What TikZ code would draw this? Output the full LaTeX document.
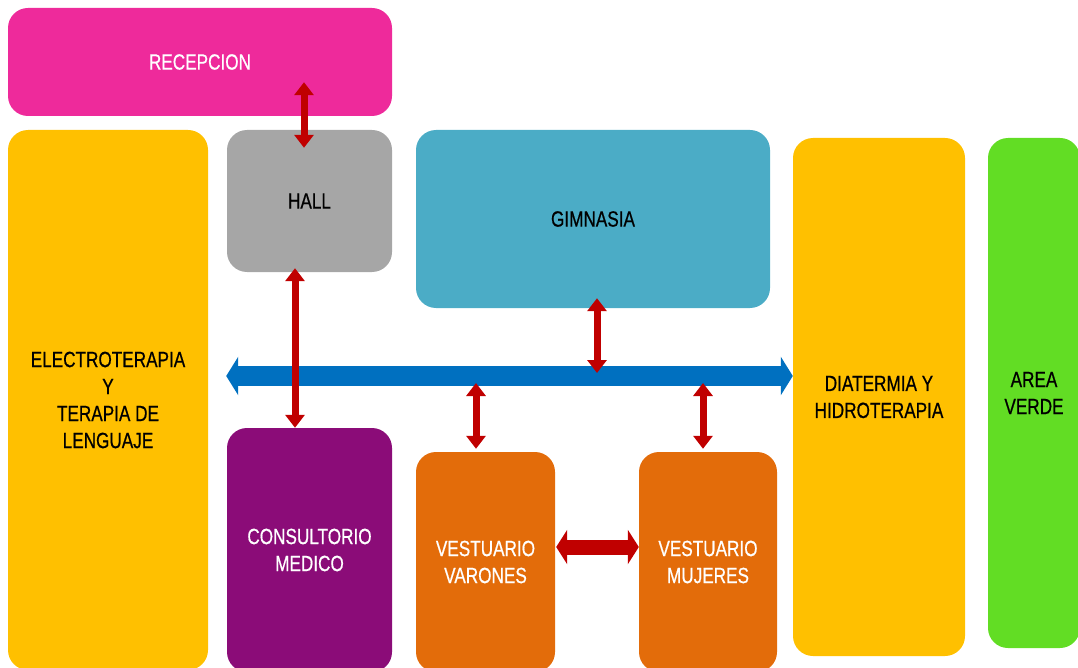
\documentclass[tikz,border=0pt]{standalone}
\usepackage{fontspec}
\setmainfont{Liberation Sans}[FakeStretch=0.78,FakeBold=0.6]
\usetikzlibrary{arrows.meta}
\definecolor{pinkc}{HTML}{EE2A9B}
\definecolor{yellowc}{HTML}{FFC000}
\definecolor{grayc}{HTML}{A6A6A6}
\definecolor{tealc}{HTML}{4BACC6}
\definecolor{purplec}{HTML}{8B0C78}
\definecolor{orangec}{HTML}{E36C0A}
\definecolor{greenc}{HTML}{62DD24}
\definecolor{redc}{HTML}{C00000}
\definecolor{bluec}{HTML}{0070C0}
\begin{document}
\begin{tikzpicture}[x=1pt,y=-1pt,
  room/.style={rectangle, rounded corners=20pt, inner sep=0pt, align=center,
    font=\fontsize{22}{27}\selectfont},
  redv/.style={draw=redc, line width=7pt,
    {Triangle[width=19pt,length=13pt]}-{Triangle[width=19pt,length=13pt]}},
  redh/.style={draw=redc, line width=15pt,
    {Triangle[width=34pt,length=11pt]}-{Triangle[width=34pt,length=11pt]}},
  busarrow/.style={draw=bluec, line width=20pt,
    {Triangle[width=38pt,length=12pt]}-{Triangle[width=38pt,length=12pt]}}]
\useasboundingbox (0,0) rectangle (1078,668);
\clip (0,0) rectangle (1078,668);

% rooms
\node[room, fill=pinkc, text=white, minimum width=384pt, minimum height=108pt] (rec) at (200,62) {RECEPCION};
\node[room, fill=yellowc, minimum width=200pt, minimum height=540pt] (elec) at (108,400)
  {ELECTROTERAPIA\\Y\\TERAPIA DE\\LENGUAJE};
\node[room, fill=grayc, minimum width=165pt, minimum height=142pt] (hall) at (309.5,201) {HALL};
\node[room, fill=tealc, minimum width=354pt, minimum height=178pt] (gym) at (593,219) {GIMNASIA};
\node[room, fill=yellowc, minimum width=172pt, minimum height=518pt] (diat) at (879,397)
  {DIATERMIA Y\\HIDROTERAPIA};
\node[room, fill=greenc, minimum width=92pt, minimum height=510pt] (verde) at (1034,393)
  {AREA\\VERDE};
\node[room, fill=purplec, text=white, minimum width=165pt, minimum height=244pt] (cons) at (309.5,550)
  {CONSULTORIO\\MEDICO};
\node[room, fill=orangec, text=white, minimum width=139pt, minimum height=220pt] (var) at (485.5,562)
  {VESTUARIO\\VARONES};
\node[room, fill=orangec, text=white, minimum width=138pt, minimum height=220pt] (muj) at (708,562)
  {VESTUARIO\\MUJERES};

% points on the main corridor
\coordinate (busG) at (597,373);
\coordinate (busV) at (476,383);
\coordinate (busM) at (703,383);

% main corridor
\draw[busarrow] ([xshift=18pt,yshift=24pt]elec.east) -- ([yshift=21pt]diat.west);

% connections
\draw[redv] ([xshift=104pt,yshift=34pt]rec.south) -- ([xshift=-5.5pt,yshift=-18pt]hall.north);
\draw[redv] ([xshift=-14.5pt,yshift=4pt]hall.south) -- ([xshift=-14.5pt]cons.north);
\draw[redv] ([xshift=4pt,yshift=10pt]gym.south) -- (busG);
\draw[redv] (busV) -- ([xshift=-9.5pt,yshift=3pt]var.north);
\draw[redv] (busM) -- ([xshift=-5pt,yshift=3pt]muj.north);
\draw[redh] ([xshift=1pt,yshift=15pt]var.east) -- ([yshift=15pt]muj.west);
\end{tikzpicture}
\end{document}
